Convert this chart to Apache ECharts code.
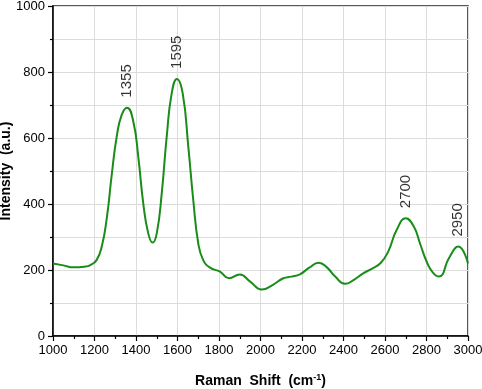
<!DOCTYPE html>
<html>
<head>
<meta charset="utf-8">
<script src="https://cdn.jsdelivr.net/npm/echarts@6/dist/echarts.min.js"></script>
<style>html,body{margin:0;padding:0;background:#fff}#c{width:482px;height:389px}</style>
</head>
<body>
<div id="c"></div>
<script>
var ramanShift = [1000,1050,1100,1150,1180,1210,1235,1260,1283,1307,1331,1357,1387,1411,1435,1459,1480,1500,1524,1548,1572,1597,1625,1652,1676,1700,1724,1757,1805,1848,1900,1950,2006,2060,2110,2150,2190,2235,2280,2320,2360,2407,2450,2495,2540,2580,2615,2656,2700,2740,2770,2801,2830,2860,2910,2953,3000];
var intensity  = [220,214,208,210,215,230,271,361,488,604,670,692,650,543,402,311,283,311,432,604,735,779,735,574,412,281,230,207,195,175,186,165,141,155,175,180,187,207,222,208,180,158,170,190,205,222,255,321,357,330,278,225,193,180,238,271,220];
var peakX = [1355,1595,2700,2950];
var peakY = [692,779,357,271];
var xTicks = [1000,1200,1400,1600,1800,2000,2200,2400,2600,2800,3000];
var yTicks = [0,200,400,600,800,1000];

var line = ramanShift.map(function(x,i){return [x,intensity[i]];});
var peaks = peakX.map(function(x,i){return [x,peakY[i]];});
var font = 'Arial, "Liberation Sans", sans-serif';

var chart = echarts.init(document.getElementById('c'));
chart.setOption({
  animation:false,
  grid:{left:53,right:14,top:6,bottom:53,show:true,borderColor:'#222',borderWidth:1.5,backgroundColor:'transparent',containLabel:false,outerBoundsMode:'none'},
  xAxis:{
    type:'value',min:xTicks[0],max:xTicks[xTicks.length-1],interval:200,
    name:'Raman  Shift  (cm{sup|-1})',nameLocation:'middle',nameGap:37,nameMoveOverlap:false,
    nameTextStyle:{fontFamily:font,fontSize:14,fontWeight:'bold',color:'#000',
      rich:{sup:{fontFamily:font,fontSize:9,fontWeight:'bold',color:'#000',verticalAlign:'top',padding:[0,0,8,0]}}},
    axisLine:{show:true,onZero:false,lineStyle:{color:'#000',width:1.5}},
    axisTick:{show:true,inside:false,length:5,lineStyle:{color:'#000',width:1.2}},
    minorTick:{show:true,splitNumber:2,length:3,lineStyle:{color:'#000',width:1.2}},
    axisLabel:{fontFamily:font,fontSize:13,color:'#000',margin:8,formatter:function(v){return String(v);}},
    splitLine:{show:true,lineStyle:{color:'#dcdcdc',width:1}}
  },
  yAxis:{
    type:'value',min:yTicks[0],max:yTicks[yTicks.length-1],interval:200,
    name:'Intensity  (a.u.)',nameLocation:'middle',nameGap:40,nameMoveOverlap:false,
    nameTextStyle:{fontFamily:font,fontSize:14,fontWeight:'bold',color:'#000'},
    axisLine:{show:true,onZero:false,lineStyle:{color:'#000',width:1.5}},
    axisTick:{show:true,inside:false,length:5,lineStyle:{color:'#000',width:1.2}},
    minorTick:{show:true,splitNumber:2,length:3,lineStyle:{color:'#000',width:1.2}},
    axisLabel:{fontFamily:font,fontSize:13,color:'#000',margin:8,formatter:function(v){return String(v);}},
    splitLine:{show:true,lineStyle:{color:'#dcdcdc',width:1}},
    minorSplitLine:{show:true,lineStyle:{color:'#dcdcdc',width:1}}
  },
  series:[
    {type:'line',data:line,smooth:0.5,showSymbol:false,lineStyle:{color:'#1a8c1a',width:2},z:3},
    {type:'scatter',data:peaks,symbolSize:0,silent:true,
      label:{show:true,position:'top',distance:10,rotate:90,align:'left',verticalAlign:'middle',
        formatter:function(p){return String(p.value[0]);},
        fontFamily:font,fontSize:15,color:'#000'}}
  ]
});
</script>
</body>
</html>
